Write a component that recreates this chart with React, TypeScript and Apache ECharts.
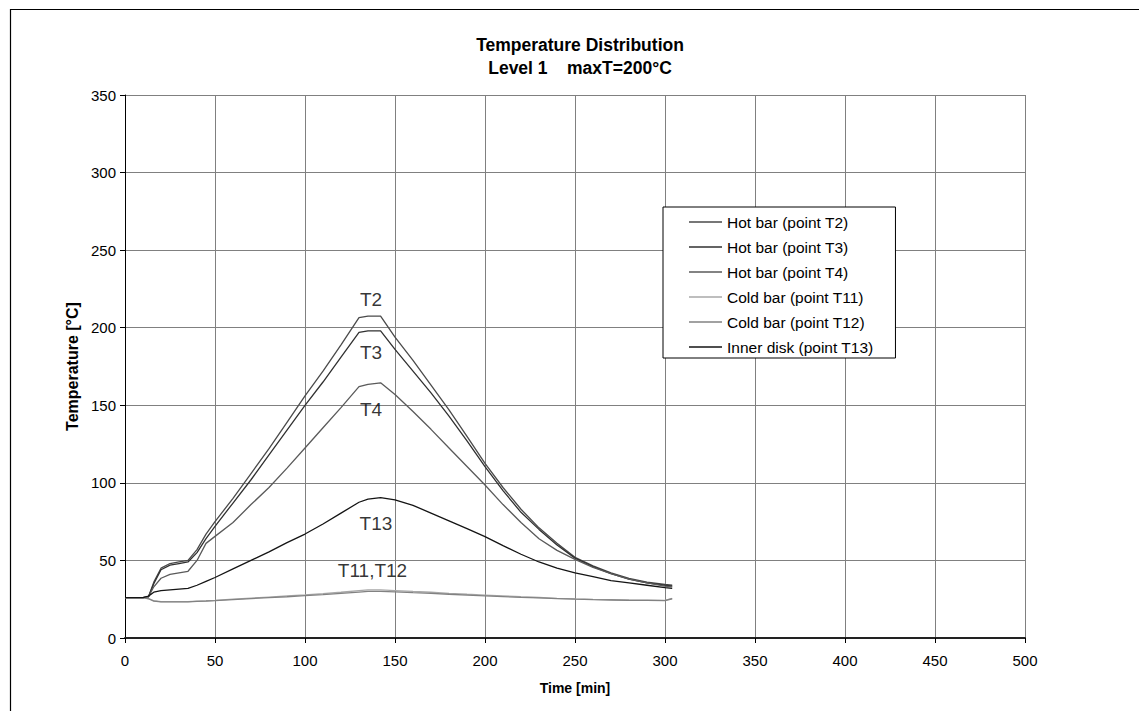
import React, { useEffect, useRef } from "react";
import * as echarts from "echarts";

const chartTitle = "Temperature Distribution\nLevel 1    maxT=200°C";
const xAxisName = "Time [min]";
const yAxisName = "Temperature [°C]";

const times = [0, 10, 13, 16, 20, 25, 30, 35, 40, 45, 50, 60, 70, 80, 90, 100, 110, 120, 130, 135, 142, 150, 160, 170, 180, 190, 200, 210, 220, 230, 240, 250, 260, 270, 280, 290, 300, 304];

const hotT2 = [26, 26, 26.5, 36, 45, 48, 49, 50, 57, 67, 75, 90, 106, 122, 139, 156, 172, 189, 206.5, 207.5, 207.5, 194, 179, 163, 147, 130, 112.6, 97, 83, 71, 61, 52, 46.5, 42, 38.5, 36, 34.5, 34];
const hotT3 = [26, 26, 26.5, 35, 44, 47, 48, 49, 55, 64, 72, 87, 102, 118, 134, 150, 165, 181, 197, 198, 198, 186, 172, 158, 143, 127, 110.5, 95, 81, 70, 60, 51.5, 46, 41.5, 38, 35.5, 34, 33.5];
const hotT4 = [26, 26, 26.5, 33, 38.5, 41, 42, 43, 50, 61, 65.5, 74.5, 86, 97, 109.5, 122.5, 135.5, 148.5, 162, 163.5, 164.5, 157, 146, 134.5, 122.5, 110.5, 98.6, 86, 74.5, 64, 56.5, 50.7, 45.5, 41.5, 38, 35.5, 33.5, 33];
const coldT11 = [26, 26, 25.5, 24, 23.5, 23.5, 23.5, 23.5, 23.8, 24, 24.3, 25, 25.7, 26.4, 27.1, 27.8, 28.6, 29.5, 30.5, 31, 31, 30.6, 30, 29.5, 28.8, 28.2, 27.7, 27.2, 26.6, 26.1, 25.6, 25.2, 24.9, 24.7, 24.5, 24.4, 24.3, 25.5];
const coldT12 = [26, 26, 25.3, 23.8, 23.3, 23.3, 23.3, 23.3, 23.6, 23.8, 24.1, 24.8, 25.4, 26, 26.6, 27.3, 28, 28.8, 29.6, 30, 30, 29.7, 29.2, 28.8, 28.2, 27.7, 27.2, 26.7, 26.2, 25.8, 25.4, 25, 24.7, 24.5, 24.3, 24.2, 24.1, 25.3];
const innerT13 = [26, 26, 27, 29.5, 30.5, 31, 31.5, 32, 34, 36.5, 39, 44.5, 50, 55.5, 61.5, 67, 73.5, 80.5, 87.5, 89.5, 90.5, 89, 85.5, 80.5, 75.5, 70.5, 65.3, 59.5, 54, 49, 45, 42, 39.5, 37, 35.5, 34, 32.5, 32];

const seriesNames = [
  "Hot bar (point T2)",
  "Hot bar (point T3)",
  "Hot bar (point T4)",
  "Cold bar (point T11)",
  "Cold bar (point T12)",
  "Inner disk (point T13)",
];
const seriesValues = [hotT2, hotT3, hotT4, coldT11, coldT12, innerT13];
const seriesColors = ["#4a4a4a", "#303030", "#5a5a5a", "#a8a8a8", "#828282", "#141414"];

const labelTexts = ["T2", "T3", "T4", "T13", "T11,T12"];
const labelTimes = [136.7, 136.7, 136.7, 139.4, 137.5];
const labelTemps = [217.9, 184, 147, 73.8, 43.2];

const FONT = 'Arial, "Liberation Sans", sans-serif';

export default function App() {
  const ref = useRef<HTMLDivElement>(null);
  useEffect(() => {
    if (!ref.current) return;
    const chart = echarts.init(ref.current, undefined, { renderer: "svg" });
    const lineSeries = seriesNames.map((name, i) => ({
      name,
      type: "line",
      symbol: "none",
      smooth: false,
      data: times.map((t, j) => [t, seriesValues[i][j]]),
      lineStyle: { color: seriesColors[i], width: 1.3 },
      itemStyle: { color: seriesColors[i] },
      z: 3,
    }));
    const labelSeries = {
      name: "labels",
      type: "scatter",
      symbolSize: 1,
      itemStyle: { color: "rgba(0,0,0,0)" },
      silent: true,
      data: labelTexts.map((txt, i) => ({ name: txt, value: [labelTimes[i], labelTemps[i]] })),
      label: {
        show: true,
        position: "inside",
        formatter: "{b}",
        fontFamily: FONT,
        fontSize: 19,
        color: "#000",
      },
      z: 4,
    };
    chart.setOption({
      animation: false,
      backgroundColor: "#fff",
      textStyle: { fontFamily: FONT },
      title: {
        text: chartTitle,
        left: 575,
        top: 28,
        textAlign: "center",
        textStyle: { fontFamily: FONT, fontSize: 17.5, fontWeight: "bold", color: "#000", lineHeight: 23 },
      },
      grid: { left: 125, top: 95, width: 900, height: 543, containLabel: false },
      legend: {
        data: seriesNames,
        orient: "vertical",
        left: 663,
        top: 207,
        padding: [6, 22, 2, 26],
        itemGap: 7,
        itemWidth: 33,
        itemHeight: 1.5,
        icon: "rect",
        borderColor: "#000",
        borderWidth: 1,
        backgroundColor: "#fff",
        textStyle: { fontFamily: FONT, fontSize: 15.5, color: "#000", lineHeight: 18 },
      },
      xAxis: {
        type: "value",
        min: 0,
        max: 500,
        interval: 50,
        name: xAxisName,
        nameLocation: "middle",
        nameGap: 43,
        nameTextStyle: { fontFamily: FONT, fontSize: 14, fontWeight: "bold", color: "#000" },
        axisLine: { show: true, onZero: false, lineStyle: { color: "#222", width: 2 } },
        axisTick: { show: true, inside: false, length: 5, lineStyle: { color: "#000" } },
        axisLabel: { margin: 15, fontFamily: FONT, fontSize: 15, color: "#000" },
        splitLine: { show: true, lineStyle: { color: "#808080", width: 1 } },
      },
      yAxis: {
        type: "value",
        min: 0,
        max: 350,
        interval: 50,
        name: yAxisName,
        nameLocation: "middle",
        nameGap: 45,
        nameTextStyle: { fontFamily: FONT, fontSize: 16, fontWeight: "bold", color: "#000" },
        axisLine: { show: true, onZero: false, lineStyle: { color: "#000", width: 1 } },
        axisTick: { show: true, inside: false, length: 5, lineStyle: { color: "#000" } },
        axisLabel: { margin: 9, fontFamily: FONT, fontSize: 15, color: "#000" },
        splitLine: { show: true, lineStyle: { color: "#808080", width: 1 } },
      },
      graphic: [
        {
          type: "rect",
          left: 8,
          top: 7,
          shape: { x: 0, y: 0, width: 1300, height: 900 },
          style: { fill: "none", stroke: "#000", lineWidth: 1.2 },
          silent: true,
          z: 0,
        },
      ],
      series: [...lineSeries, labelSeries],
    });
    return () => chart.dispose();
  }, []);
  return <div ref={ref} style={{ position: "absolute", left: 0, top: 0, width: 1139, height: 711 }} />;
}
